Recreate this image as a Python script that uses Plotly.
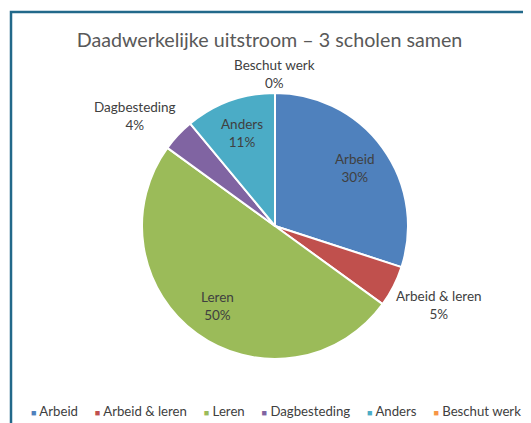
import math
import plotly.graph_objects as go

labels = ["Arbeid", "Arbeid & leren", "Leren", "Dagbesteding", "Anders", "Beschut werk"]
values = [30, 5, 50, 4, 11, 0]
colors = ["#4F81BD", "#C0504D", "#9BBB59", "#8064A2", "#4BACC6", "#F79646"]
label_inside = [True, False, True, False, True, False]
title = "Daadwerkelijke uitstroom – 3 scholen samen"

# the page body has an 8px default margin, so the figure fills the rest of the window
W, H = 523, 415
cx, cy, r = 267, 218, 133          # pie centre / radius in figure pixels (from top-left)
FONT = "Lato"
TXT = "#404040"

fig = go.Figure(go.Pie(
    labels=labels, values=values, sort=False, direction="clockwise", rotation=0,
    marker=dict(colors=colors, line=dict(color="white", width=2)),
    textinfo="none", showlegend=False,
    domain=dict(x=[(cx - r) / W, (cx + r) / W], y=[(H - cy - r) / H, (H - cy + r) / H]),
    hoverinfo="label+percent",
))

# data labels, placed at each slice's mid-angle
total = sum(values)
cum = 0.0
for lab, v, inside in zip(labels, values, label_inside):
    theta = 2 * math.pi * (cum + v / 2) / total
    cum += v
    s, c = math.sin(theta), math.cos(theta)
    txt = f"{lab}<br>{v / total:.0%}"
    if inside:
        d = 0.74 * r
        xa, ya = "center", "middle"
    else:
        d = 1.0 * r
        xa = "left" if s > 0.3 else ("right" if s < -0.3 else "center")
        ya = "bottom" if c > 0.3 else ("top" if c < -0.3 else "middle")
    px, py = cx + d * s, cy - d * c
    fig.add_annotation(x=px / W, y=1 - py / H, xref="paper", yref="paper",
                       xanchor=xa, yanchor=ya, showarrow=False, text=txt,
                       font=dict(family=FONT, size=13.5, color=TXT))

# legend row (small coloured squares followed by the category names)
sep = "&nbsp;" * 5
legend_txt = sep.join(
    f"<span style='color:{col};font-size:9px'>■</span>&nbsp;{lab}"
    for lab, col in zip(labels, colors)
)
fig.add_annotation(x=268 / W, y=1 - 403 / H, xref="paper", yref="paper",
                   xanchor="center", yanchor="middle", showarrow=False,
                   text=legend_txt, font=dict(family=FONT, size=13.2, color=TXT))

# chart frame
fig.add_shape(type="rect", xref="paper", yref="paper",
              x0=3 / W, x1=1.2, y0=-0.2, y1=1 - 4 / H,
              line=dict(color="#22698A", width=2.5))

fig.update_layout(
    width=W, height=H, margin=dict(l=0, r=0, t=0, b=0),
    paper_bgcolor="white",
    title=dict(text=title, x=0.5, xanchor="center", y=1 - 32 / H, yanchor="middle",
               font=dict(family=FONT, size=19.7, color="#595959")),
)
fig.write_html("out.html")
